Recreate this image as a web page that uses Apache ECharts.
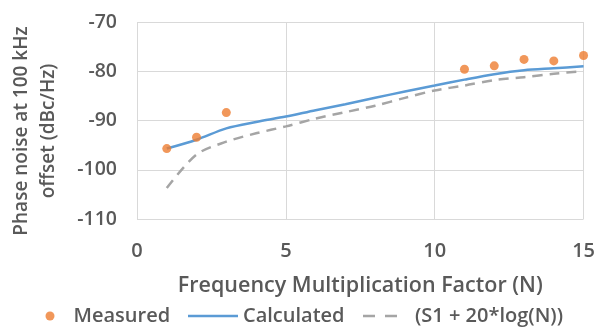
<!DOCTYPE html>
<html>
<head>
<meta charset="utf-8">
<script src="https://cdn.jsdelivr.net/npm/echarts@6/dist/echarts.min.js"></script>
<style>html,body{margin:0;padding:0;background:#fff}#c{width:598px;height:329px}</style>
</head>
<body>
<div id="c"></div>
<script>
const measuredN = [1, 2, 3, 11, 12, 13, 14, 15];
const measuredVals = [-95.7, -93.4, -88.4, -79.6, -78.9, -77.6, -77.9, -76.8];
const calcN = [1, 2, 3, 4, 5, 6, 7, 8, 9, 10, 11, 12, 13, 14, 15];
const calcVals = [-95.7, -93.9, -91.6, -90.3, -89.2, -87.9, -86.7, -85.4, -84.1, -82.9, -81.7, -80.6, -79.8, -79.4, -79.0];
const formulaVals = [-103.7, -96.9, -94.3, -92.6, -91.2, -89.6, -88.3, -87.0, -85.4, -83.9, -82.9, -81.8, -81.2, -80.5, -80.0];
const seriesNames = ['Measured', 'Calculated', '(S1 + 20*log(N))'];
const xTitle = 'Frequency Multiplication Factor (N)';
const yTitle = 'Phase noise at 100 kHz\noffset (dBc/Hz)';

const FONT = 'Open Sans';
const W = 600;
const TXT = '#595959';
const chart = echarts.init(document.getElementById('c'), null, {renderer: 'canvas'});
const legendText = {color: TXT, fontFamily: FONT, fontWeight: W, fontSize: 20};
chart.setOption({
  animation: false,
  backgroundColor: '#ffffff',
  grid: {left: 137, right: 13, top: 22, bottom: 110, containLabel: false},
  xAxis: {
    type: 'value', min: 0, max: 15, interval: 5,
    axisLine: {show: false}, axisTick: {show: false},
    splitLine: {show: true, lineStyle: {color: '#d9d9d9', width: 1}},
    axisLabel: {color: TXT, fontFamily: FONT, fontWeight: W, fontSize: 20, margin: 22},
    name: xTitle, nameLocation: 'middle', nameGap: 56,
    nameTextStyle: {color: TXT, fontFamily: FONT, fontWeight: W, fontSize: 21.5}
  },
  yAxis: {
    type: 'value', min: -110, max: -70, interval: 10,
    axisLine: {show: false}, axisTick: {show: false},
    splitLine: {show: true, lineStyle: {color: '#d9d9d9', width: 1}},
    axisLabel: {color: TXT, fontFamily: FONT, fontWeight: W, fontSize: 19.5, margin: 20}
  },
  graphic: [{
    type: 'text', x: 35, y: 131, rotation: Math.PI / 2,
    style: {text: yTitle, fill: TXT, font: W + ' 19px "' + FONT + '"', align: 'center', verticalAlign: 'middle', lineHeight: 27}
  }],
  legend: [
    {data: [seriesNames[0]], left: 40.5, top: 301, itemWidth: 9, itemHeight: 9, icon: 'circle',
     textStyle: Object.assign({padding: [0, 0, 0, 14]}, legendText)},
    {data: [seriesNames[1]], left: 183, top: 301, itemWidth: 50, itemHeight: 2.5,
     icon: 'path://M0,0H50V2.5H0Z', textStyle: legendText},
    {data: [seriesNames[2]], left: 358, top: 301, itemWidth: 34, itemHeight: 2.5,
     icon: 'path://M0,0H12V2.5H0Z M22,0H34V2.5H22Z', textStyle: Object.assign({padding: [0, 0, 0, 13]}, legendText)}
  ],
  series: [
    {
      name: seriesNames[1], type: 'line', smooth: 0.3, symbol: 'none', z: 2,
      data: calcN.map((n, i) => [n, calcVals[i]]),
      lineStyle: {color: '#5B9BD5', width: 2.5}, itemStyle: {color: '#5B9BD5'}
    },
    {
      name: seriesNames[2], type: 'line', smooth: 0.3, symbol: 'none', z: 1,
      data: calcN.map((n, i) => [n, formulaVals[i]]),
      lineStyle: {color: '#A5A5A5', width: 2.5, type: [10, 7]}, itemStyle: {color: '#A5A5A5'}
    },
    {
      name: seriesNames[0], type: 'scatter', symbol: 'circle', symbolSize: 9, z: 3,
      data: measuredN.map((n, i) => [n, measuredVals[i]]),
      itemStyle: {color: '#ED7D31'}
    }
  ]
});
</script>
</body>
</html>
